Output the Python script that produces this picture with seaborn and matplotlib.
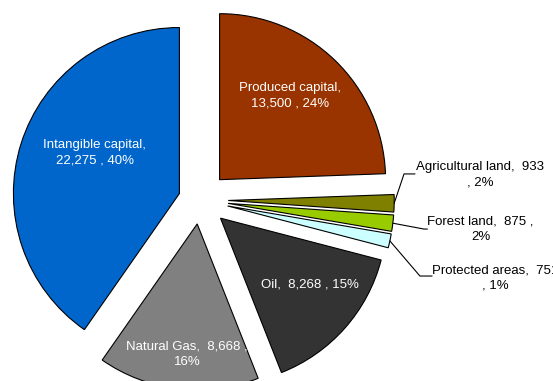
import matplotlib
matplotlib.use("Agg")
import matplotlib.pyplot as plt
import numpy as np
import seaborn as sns

# Wealth components, clockwise from 12 o'clock
categories = ["Produced capital", "Agricultural land", "Forest land",
              "Protected areas", "Oil", "Natural Gas", "Intangible capital"]
values = [13500, 933, 875, 751, 8268, 8668, 22275]
colors = ["#993300", "#808000", "#99CC00", "#CCFFFF", "#333333", "#808080", "#0066CC"]
explode = [0.17, 0.17, 0.17, 0.17, 0.165, 0.145, 0.13]

# How each label breaks across lines
templates = [
    "{name},\n{val} , {pct}%",
    "{name},  {val}\n, {pct}%",
    "{name},  {val} ,\n{pct}%",
    "{name},  {val}\n, {pct}%",
    "{name},  {val} , {pct}%",
    "{name},  {val} ,\n{pct}%",
    "{name},\n{val} , {pct}%",
]
# Label anchors (data units, pie radius = 1)
label_xy = [(0.542, 0.627), (1.687, 0.154), (1.690, -0.175), (1.777, -0.47),
            (0.66, -0.512), (-0.078, -0.928), (-0.633, 0.283)]
# Leader-line bend points for the outside labels
leaders = {1: [(1.229, 0.157), (1.295, 0.157)],
           2: [(1.349, -0.175), (1.37, -0.175)],
           3: [(1.325, -0.458), (1.398, -0.458)]}

sns.set_theme(style="white")
plt.rcParams["font.family"] = ["Liberation Sans", "DejaVu Sans"]

fig = plt.figure(figsize=(5.53, 3.81), dpi=100)
ax = fig.add_axes([0, 0, 1, 1])

wedges, _ = ax.pie(values, explode=explode, colors=colors, startangle=90,
                   counterclock=False, radius=1,
                   wedgeprops=dict(edgecolor="black", linewidth=0.8))

total = sum(values)
for i, (w, name, val) in enumerate(zip(wedges, categories, values)):
    pct = int(round(100 * val / total))
    txt = templates[i].format(name=name, val=f"{val:,}", pct=pct)
    inside = i not in leaders
    ax.text(*label_xy[i], txt, ha="center", va="center", fontsize=9.5,
            color="white" if inside else "black", linespacing=1.35,
            multialignment="center")
    if not inside:
        mid = np.deg2rad((w.theta1 + w.theta2) / 2)
        cx, cy = w.center
        start = (cx + w.r * np.cos(mid), cy + w.r * np.sin(mid))
        pts = [start] + leaders[i]
        xs, ys = zip(*pts)
        ax.plot(xs, ys, color="black", linewidth=0.8)

ax.set_xlim(-200 / 166, 353 / 166)
ax.set_ylim(-181 / 166, 200 / 166)
ax.set_aspect("auto")
ax.axis("off")

fig.savefig("out.png", dpi=100)
